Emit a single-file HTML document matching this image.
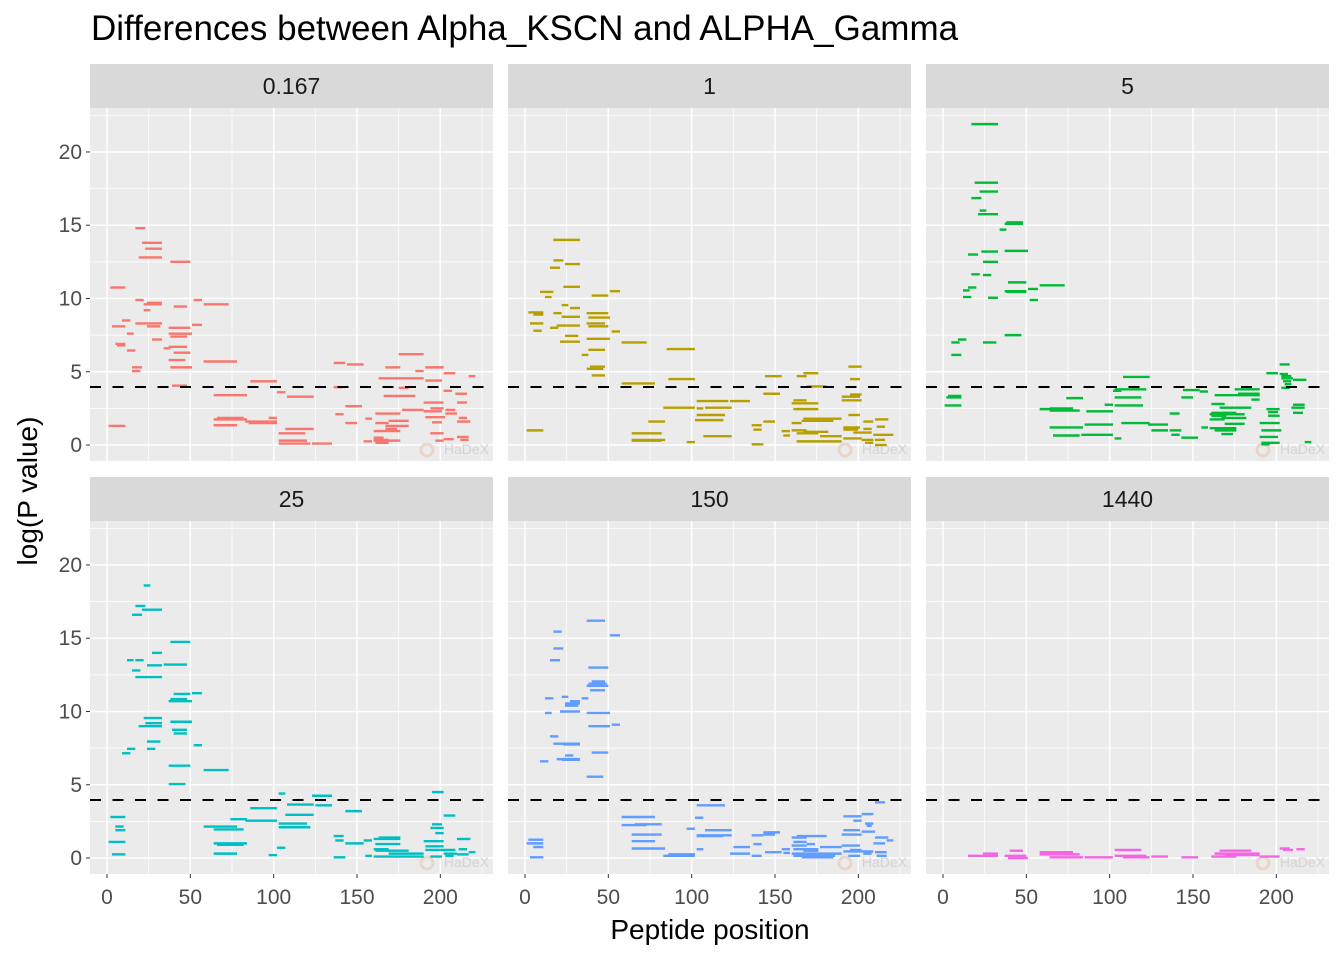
<!DOCTYPE html>
<html><head><meta charset="utf-8"><style>
html,body{margin:0;padding:0;background:#fff;}
svg{display:block;font-family:"Liberation Sans",Arial,sans-serif;}
</style></head><body>
<svg id="chart" width="1344" height="960" viewBox="0 0 1344 960">
<rect width="1344" height="960" fill="#fff"/>
<text x="91" y="40" font-size="35" fill="#000">Differences between Alpha_KSCN and ALPHA_Gamma</text>
<text x="710" y="939" font-size="28" text-anchor="middle" fill="#000">Peptide position</text>
<text transform="translate(37,491) rotate(-90)" font-size="28" text-anchor="middle" fill="#000">log(P value)</text>
<g id="panels"></g>
</svg>
<script>
const panelLabels = ["0.167","1","5","25","150","1440"];
const panelColors = ["#F8766D","#B79F00","#00BA38","#00BFC4","#619CFF","#F564E3"];
const xTicks = [0,50,100,150,200];
const yTicks = [0,5,10,15,20];
const threshold = 3.96;
const seg_0167 = [[17,23,14.8],[21,33,13.8],[23,33,13.4],[19,33,12.8],[38,50,12.5],[2,11,10.75],[17,22,9.9],[22,33,9.6],[24,33,9.7],[40,48,9.45],[52,57,9.9],[58,73,9.6],[22,26,9.2],[9,14,8.5],[3,11,8.1],[17,33,8.3],[24,32,8.1],[37,50,8.0],[51,57,8.2],[12,16,7.6],[37,51,7.6],[38,48,7.4],[27,33,7.2],[5,11,6.9],[6,11,6.8],[34,38,6.6],[37,48,6.7],[12,17,6.45],[40,50,6.3],[37,47,5.8],[58,78,5.7],[38,51,5.3],[15,21,5.3],[15,20,5.05],[39,48,4.05],[1,11,1.3],[64,84,3.4],[86,102,4.35],[102,107,3.6],[108,124,3.3],[64,84,1.75],[66,82,1.85],[64,78,1.35],[83,102,1.6],[85,102,1.5],[97,102,1.85],[107,124,1.1],[103,119,0.8],[103,120,0.3],[103,122,0.1],[123,135,0.1],[136,143,5.6],[144,154,5.5],[136,141,3.95],[143,153,2.65],[137,142,2.1],[143,150,1.5],[155,159,1.8],[154,159,0.25],[161,176,2.15],[161,169,1.5],[169,181,1.65],[167,181,1.3],[160,176,0.95],[167,174,1.1],[160,166,0.5],[160,169,0.35],[160,176,0.3],[161,169,0.15],[167,176,5.3],[163,190,4.55],[175,190,6.2],[166,185,3.35],[175,181,3.9],[177,190,2.4],[185,190,5.05],[191,202,5.3],[191,201,4.4],[202,209,4.9],[202,207,3.7],[217,221,4.7],[209,216,3.5],[190,202,2.9],[194,202,2.5],[190,201,2.3],[203,209,2.4],[203,210,2.15],[210,216,2.9],[191,203,1.9],[195,201,1.55],[211,216,1.85],[210,218,1.6],[194,202,0.8],[197,202,0.3],[202,208,0.4],[210,217,0.55],[212,217,0.35]];
const seg_1 = [[17,33,14.0],[17,23,12.6],[24,33,12.35],[15,21,12.1],[23,33,10.8],[9,17,10.45],[12,16,10.1],[40,50,10.2],[51,57,10.5],[22,26,9.55],[27,33,9.35],[2,11,9.05],[5,11,8.9],[17,22,9.0],[22,33,8.75],[37,50,9.0],[38,51,8.7],[3,11,8.3],[37,48,8.3],[38,50,8.1],[15,20,8.0],[19,33,8.15],[5,10,7.8],[52,57,7.75],[24,32,7.45],[21,33,7.05],[37,51,7.25],[58,73,7.0],[38,48,6.5],[34,38,6.15],[85,102,6.55],[39,48,5.35],[37,47,5.2],[40,48,4.75],[58,78,4.2],[86,102,4.5],[1,11,1.0],[74,84,1.6],[64,82,0.8],[64,84,0.35],[64,82,0.3],[97,102,0.2],[83,102,2.55],[103,122,3.0],[123,135,3.0],[103,107,2.5],[108,124,2.55],[103,120,2.05],[102,119,1.7],[107,124,0.6],[136,142,1.35],[137,142,1.05],[136,143,0.05],[143,150,1.6],[143,153,3.5],[144,154,4.7],[163,169,4.7],[167,176,4.9],[169,181,4.0],[161,169,3.05],[160,176,2.85],[161,176,2.45],[167,190,1.8],[166,185,1.65],[160,166,1.5],[154,159,0.95],[155,159,0.65],[160,169,1.0],[163,176,0.8],[167,182,0.9],[177,190,0.6],[163,190,0.25],[194,202,5.35],[195,201,4.5],[195,202,3.45],[190,201,3.3],[190,202,3.05],[194,201,2.05],[203,209,1.6],[210,218,1.75],[211,216,1.25],[191,201,1.2],[191,200,1.05],[203,208,1.1],[197,208,0.85],[209,221,0.7],[191,202,0.45],[202,209,0.35],[210,216,0.35],[204,209,0.15],[210,217,0.0]];
const seg_5 = [[17,33,21.9],[19,33,17.9],[22,33,17.3],[17,23,16.85],[22,26,16.0],[21,33,15.75],[38,48,15.2],[37,48,15.1],[34,38,14.7],[15,21,13.0],[23,33,13.2],[37,51,13.25],[24,33,12.5],[17,22,11.65],[24,29,11.6],[39,50,11.1],[58,73,10.9],[15,20,10.75],[12,16,10.55],[51,57,10.65],[37,50,10.5],[38,50,10.45],[12,17,10.1],[27,33,10.05],[52,57,9.9],[37,47,7.5],[9,14,7.2],[5,10,7.0],[24,32,7.0],[5,11,6.15],[2,11,3.25],[3,11,3.35],[1,11,2.7],[74,84,3.2],[58,73,2.45],[64,78,2.5],[64,82,2.35],[86,102,2.3],[97,102,2.75],[108,124,4.65],[102,107,3.7],[103,122,3.8],[103,119,3.25],[103,120,2.7],[64,84,1.2],[66,82,0.65],[83,102,0.7],[85,102,1.4],[107,124,1.5],[123,135,1.4],[125,135,1.0],[103,107,0.45],[136,143,1.0],[137,142,0.7],[143,153,0.5],[136,142,2.15],[143,150,3.25],[144,154,3.75],[154,159,3.65],[155,159,1.2],[163,190,3.4],[175,190,3.8],[177,190,3.5],[185,190,3.1],[161,169,2.8],[166,185,2.55],[161,176,2.2],[160,181,2.1],[161,170,2.0],[167,182,1.85],[160,169,1.75],[169,181,1.45],[160,176,1.15],[163,176,1.0],[167,174,0.75],[202,208,5.5],[194,201,4.9],[202,207,4.85],[203,209,4.7],[203,210,4.55],[210,218,4.45],[204,209,4.35],[205,209,4.15],[203,208,3.9],[210,217,2.75],[209,217,2.55],[210,216,2.2],[194,202,2.45],[195,201,2.25],[195,202,2.0],[190,202,1.5],[191,203,1.0],[190,201,0.55],[191,202,0.15],[191,196,0.05],[217,221,0.2]];
const seg_25 = [[22,26,18.6],[17,23,17.2],[21,33,16.95],[15,21,16.6],[38,50,14.75],[27,33,14.0],[12,16,13.5],[17,22,13.5],[24,33,13.15],[34,48,13.2],[15,20,12.8],[17,33,12.35],[40,50,11.2],[51,57,11.25],[38,48,10.85],[37,51,10.7],[22,33,9.55],[23,33,9.2],[19,33,9.0],[38,51,9.3],[39,48,8.75],[40,48,8.5],[24,32,7.95],[52,57,7.7],[12,17,7.45],[24,29,7.45],[9,14,7.15],[37,50,6.3],[58,73,6.0],[37,47,5.05],[103,107,4.4],[123,135,4.25],[86,102,3.4],[108,124,3.65],[125,135,3.6],[143,153,3.2],[2,11,2.8],[107,124,2.95],[74,84,2.65],[83,102,2.55],[5,10,2.15],[58,78,2.15],[64,82,1.95],[103,120,2.35],[103,122,2.1],[5,11,1.9],[1,11,1.1],[64,84,1.0],[66,82,0.9],[3,11,0.25],[64,78,0.3],[97,102,0.2],[102,107,0.7],[136,142,1.5],[137,142,1.2],[136,143,0.05],[143,154,1.0],[154,159,1.2],[155,159,0.15],[163,176,1.4],[160,176,1.3],[161,176,0.95],[160,169,0.6],[161,181,0.5],[169,190,0.3],[160,190,0.1],[195,202,4.5],[202,209,2.9],[195,201,2.3],[194,202,2.05],[197,202,1.7],[190,202,1.15],[191,202,0.8],[191,209,0.55],[202,210,0.3],[203,208,0.15],[210,218,1.3],[211,216,0.6],[210,217,0.25],[217,221,0.4],[194,201,0.1]];
const seg_150 = [[37,48,16.2],[17,22,15.45],[51,57,15.2],[17,23,14.3],[15,21,13.5],[38,50,13.0],[40,48,12.05],[38,49,11.9],[37,50,11.75],[39,48,11.45],[12,17,10.9],[22,26,11.0],[34,38,10.9],[27,33,10.7],[24,33,10.55],[24,32,10.4],[21,33,10.0],[12,16,9.9],[37,51,9.9],[38,51,9.0],[52,57,9.1],[15,20,8.3],[17,33,7.8],[23,33,7.75],[40,50,7.2],[24,29,7.0],[19,33,6.75],[22,33,6.7],[9,14,6.6],[37,47,5.55],[210,216,3.8],[103,120,3.6],[58,78,2.8],[102,107,2.75],[58,73,2.25],[66,82,2.3],[97,102,2.0],[108,124,1.9],[103,124,1.55],[103,119,1.5],[64,82,1.6],[64,78,1.15],[64,84,0.65],[103,107,0.6],[83,102,0.15],[86,102,0.25],[2,11,1.25],[1,11,1.0],[5,11,0.75],[3,11,0.05],[125,135,0.75],[123,135,0.3],[136,142,0.15],[137,142,0.95],[136,143,1.55],[143,153,1.75],[143,150,1.6],[144,154,0.4],[154,159,0.6],[155,159,0.35],[160,169,1.4],[163,181,1.5],[161,169,1.1],[160,169,0.85],[169,174,0.95],[161,176,0.6],[167,176,0.5],[160,190,0.3],[161,186,0.15],[166,185,0.05],[177,190,0.75],[191,202,2.85],[197,202,2.55],[202,209,3.0],[204,209,2.35],[205,208,2.2],[191,201,1.9],[190,202,1.6],[202,210,1.8],[210,218,1.4],[217,221,1.2],[209,216,1.0],[190,201,0.85],[191,202,0.45],[195,202,0.55],[202,209,0.45],[203,208,0.3],[210,217,0.4],[211,217,0.15],[194,201,0.15]];
const seg_1440 = [[15,33,0.15],[24,33,0.3],[40,48,0.5],[37,50,0.15],[39,51,0.0],[58,78,0.4],[58,82,0.25],[64,84,0.05],[85,102,0.05],[103,119,0.55],[103,122,0.15],[108,124,0.05],[125,135,0.1],[143,153,0.05],[166,185,0.5],[163,190,0.3],[161,176,0.1],[169,190,0.2],[202,208,0.65],[204,210,0.55],[212,217,0.6],[190,202,0.1]];
const panelSegs = [seg_0167, seg_1, seg_5, seg_25, seg_150, seg_1440];

const NS = "http://www.w3.org/2000/svg";
const colX = [90, 508, 926], rowY = [108, 521];
const PW = 403, PH = 353;
const xMin = -10.2, xMax = 231.6, yMin = -1.09, yMax = 23.0;
function sx(v, px){ return px + (v - xMin) / (xMax - xMin) * PW; }
function sy(v, py){ return py + (yMax - v) / (yMax - yMin) * PH; }
function mk(tag, attrs, parent){ const e = document.createElementNS(NS, tag); for (const k in attrs) e.setAttribute(k, attrs[k]); parent.appendChild(e); return e; }
const root = document.getElementById('panels');

panelLabels.forEach((lab, i) => {
  const px = colX[i % 3], py = rowY[Math.floor(i / 3)];
  const g = mk('g', {}, root);
  
  
  const strip = mk('rect', {x: px, y: py - 44, width: PW, height: 44, fill: '#D9D9D9'}, g);
  
  
  const st = mk('text', {x: px + PW / 2, y: py - 14, 'font-size': 23, 'text-anchor': 'middle', fill: '#1A1A1A'}, g);
  st.textContent = lab;
  
  
  const bg = mk('rect', {x: px, y: py, width: PW, height: PH, fill: '#EBEBEB'}, g);
  
  
  for (let v = 25; v < xMax; v += 50) mk('line', {x1: sx(v, px), x2: sx(v, px), y1: py, y2: py + PH, stroke: '#fff', 'stroke-width': 0.7}, g);
  for (let v = 2.5; v < yMax; v += 5) mk('line', {x1: px, x2: px + PW, y1: sy(v, py), y2: sy(v, py), stroke: '#fff', 'stroke-width': 0.7}, g);
  xTicks.forEach(v => mk('line', {x1: sx(v, px), x2: sx(v, px), y1: py, y2: py + PH, stroke: '#fff', 'stroke-width': 1.5}, g));
  yTicks.forEach(v => mk('line', {x1: px, x2: px + PW, y1: sy(v, py), y2: sy(v, py), stroke: '#fff', 'stroke-width': 1.5}, g));
  const wm = mk('text', {x: px + PW - 4, y: py + PH - 7, 'font-size': 14, 'text-anchor': 'end', fill: '#D3D3D3'}, g);
  wm.textContent = 'HaDeX';
  
  
  mk('circle', {cx: px + PW - 66, cy: py + PH - 11, r: 6, fill: 'none', stroke: '#E8D6CC', 'stroke-width': 3}, g);
  panelSegs[i].forEach(s => {
    const ln = mk('line', {x1: sx(s[0], px), x2: sx(s[1], px), y1: sy(s[2], py), y2: sy(s[2], py), stroke: panelColors[i], 'stroke-width': 2.4}, g);
    
    
  });
  const th = mk('line', {x1: px, x2: px + PW, y1: sy(threshold, py), y2: sy(threshold, py), stroke: '#000', 'stroke-width': 2, 'stroke-dasharray': '11,11.5'}, g);
  
  
  if (i % 3 === 0) {
    yTicks.forEach(v => {
      mk('line', {x1: px - 4, x2: px, y1: sy(v, py), y2: sy(v, py), stroke: '#333', 'stroke-width': 1}, g);
      const t = mk('text', {x: px - 8, y: sy(v, py) + 7, 'font-size': 21, 'text-anchor': 'end', fill: '#4D4D4D'}, g);
      t.textContent = v;
      
      
    });
  }
  if (i >= 3) {
    xTicks.forEach(v => {
      mk('line', {x1: sx(v, px), x2: sx(v, px), y1: py + PH, y2: py + PH + 4, stroke: '#333', 'stroke-width': 1}, g);
      const t = mk('text', {x: sx(v, px), y: py + PH + 30, 'font-size': 21, 'text-anchor': 'middle', fill: '#4D4D4D'}, g);
      t.textContent = v;
      
      
    });
  }
});
</script>
</body></html>
